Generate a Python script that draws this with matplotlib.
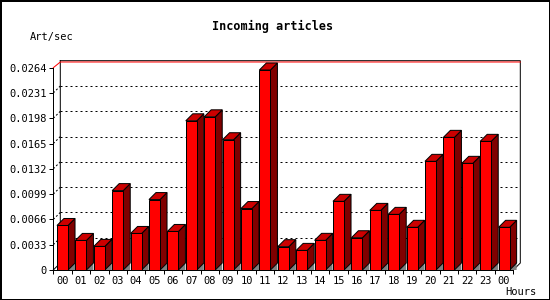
import matplotlib

matplotlib.use("Agg")
import matplotlib.pyplot as plt
from matplotlib.patches import Polygon, Rectangle

plt.rcParams["font.family"] = "DejaVu Sans Mono"

HOURS = ["00", "01", "02", "03", "04", "05", "06", "07", "08", "09", "10", "11",
         "12", "13", "14", "15", "16", "17", "18", "19", "20", "21", "22", "23", "00"]
ART_PER_SEC = [0.00581, 0.00386, 0.00308, 0.01036, 0.00477, 0.00919, 0.00503,
               0.01947, 0.01999, 0.0170, 0.00802, 0.0261, 0.00304, 0.00256,
               0.00387, 0.00896, 0.00421, 0.00778, 0.00726, 0.00557, 0.01418,
               0.01731, 0.01392, 0.01679, 0.00557]
Y_TICKS = [0, 0.0033, 0.0066, 0.0099, 0.0132, 0.0165, 0.0198, 0.0231, 0.0264]
Y_TICK_LABELS = ["0", "0.0033", "0.0066", "0.0099", "0.0132", "0.0165",
                 "0.0198", "0.0231", "0.0264"]

W, H = 550, 300
PX = 0.72  # one pixel in points at dpi 100
YMAX = Y_TICKS[-1]
n = len(HOURS)

fig = plt.figure(figsize=(W / 100, H / 100), dpi=100)
fig.patch.set_facecolor("white")
fig.patch.set_edgecolor("black")
fig.patch.set_linewidth(2)

ax_l, ax_r, ax_b, ax_t = 53.3, 513.3, 270.0, 67.7
ax = fig.add_axes([ax_l / W, (H - ax_b) / H, (ax_r - ax_l) / W, (ax_b - ax_t) / H])
ax.set_facecolor("none")
ax.set_xlim(-0.5, n - 0.5)
ax.set_ylim(0, YMAX)

# depth of the 3d effect, 7 px, in data units
dx = 7 / ((ax_r - ax_l) / n)
dy = 7 / ((ax_b - ax_t) / YMAX)
x0, x1 = -0.5, n - 0.5

# back plane grid lines and the little diagonals on the left wall
for v in Y_TICKS[1:-1]:
    ax.plot([x0 + dx, x1 + dx], [v + dy, v + dy], color="black", lw=PX,
            ls=(0, (2, 3)), clip_on=False, zorder=1)
    ax.plot([x0, x0 + dx], [v, v + dy], color="black", lw=PX,
            ls=(0, (2, 2)), clip_on=False, zorder=1)

# back plane frame
ax.plot([x0, x0 + dx, x0 + dx], [0, dy, YMAX + dy], color="black", lw=PX,
        clip_on=False, zorder=1)
ax.plot([x0 + dx, x1 + dx, x1 + dx, x1], [YMAX + dy, YMAX + dy, dy, 0],
        color="black", lw=PX, clip_on=False, zorder=1)
red_y = YMAX + dy * 5.7 / 7
ax.plot([x0, x0 + dx, x1 + dx], [YMAX, red_y, red_y], color="#ff0000", lw=PX,
        clip_on=False, zorder=1)

hw = 0.3
for i, v in enumerate(ART_PER_SEC):
    xl, xr = i - hw, i + hw
    ax.add_patch(Polygon([(xr, 0), (xr + dx, dy), (xr + dx, 0)], closed=True,
                         facecolor="#808080", edgecolor="none",
                         clip_on=False, zorder=2))
    ax.add_patch(Polygon([(xr, 0), (xr, v), (xr + dx, v + dy), (xr + dx, dy)],
                         closed=True, facecolor="#800000", edgecolor="black",
                         lw=PX, clip_on=False, zorder=2))
    ax.add_patch(Polygon([(xl, v), (xr, v), (xr + dx, v + dy), (xl + dx, v + dy)],
                         closed=True, facecolor="#cc0000", edgecolor="black",
                         lw=PX, clip_on=False, zorder=2))
    ax.add_patch(Rectangle((xl, 0), 2 * hw, v, facecolor="#ff0000",
                           edgecolor="black", lw=PX, clip_on=False, zorder=2))

for side in ("top", "right"):
    ax.spines[side].set_visible(False)
for side in ("left", "bottom"):
    ax.spines[side].set_linewidth(PX)
    ax.spines[side].set_zorder(3)

ax.set_yticks(Y_TICKS)
ax.set_yticklabels(Y_TICK_LABELS, fontsize=7.5)
ax.set_xticks([i - 0.5 for i in range(n + 1)])
ax.set_xticklabels([])
ax.set_xticks(range(n), minor=True)
ax.set_xticklabels(HOURS, minor=True, fontsize=7.5)
ax.tick_params(axis="both", which="major", direction="out", length=4 * PX,
               width=PX, color="black", pad=2)
ax.tick_params(axis="x", which="minor", length=0, pad=4)

fig.text(273 / W, 1 - 26 / H, "Incoming articles", ha="center", va="center",
         fontsize=8.5, fontweight="bold")
fig.text(30 / W, 1 - 37 / H, "Art/sec", ha="left", va="center", fontsize=7.5)
fig.text(505 / W, 1 - 292 / H, "Hours", ha="left", va="center", fontsize=7.5)

fig.savefig("out.png", dpi=100)
